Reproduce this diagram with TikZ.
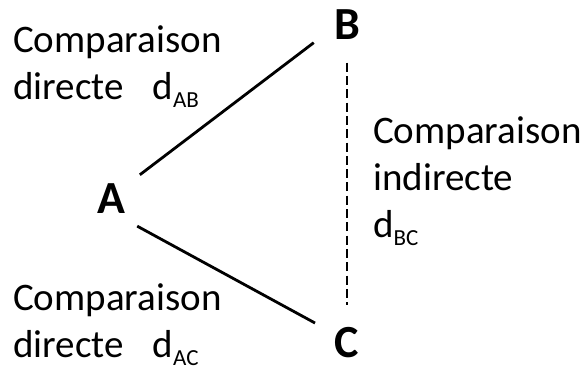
\documentclass[tikz,border=0pt]{standalone}
\usepackage{fontspec}
\setmainfont{Carlito}
\newcommand{\dsub}[1]{\raisebox{-8pt}{\fontsize{23}{23}\selectfont #1}}
\begin{document}
\begin{tikzpicture}[x=1pt,y=-1pt,
    letter/.style={circle,minimum size=75pt,inner sep=0pt,font=\fontsize{46}{46}\selectfont\bfseries},
    txt/.style={anchor=base west,inner sep=0pt,align=left,font=\fontsize{39}{47}\selectfont},
    link/.style={line width=2.8pt}]
        \useasboundingbox (0,0) rectangle (584,365);
        \node[letter] (A) at (111,199) {A};
        \node[letter] (B) at (347,25) {B};
        \node[letter] (C) at (347,343) {C};
        \draw[link] (A.40) -- (B.-152);
        \draw[link] (A.-46) -- (C.148);
        \draw[link,dash pattern=on 9pt off 4.3pt] (B) -- (C);
        \node[txt] (ab) at (13,99) {Comparaison\\directe\hspace{29pt}d\dsub{AB}};
        \node[txt] (ac) at (13,357) {Comparaison\\directe\hspace{29pt}d\dsub{AC}};
        \node[txt] (bc) at (373,237) {Comparaison\\indirecte\\d\dsub{BC}};
    \end{tikzpicture}
\end{document}
